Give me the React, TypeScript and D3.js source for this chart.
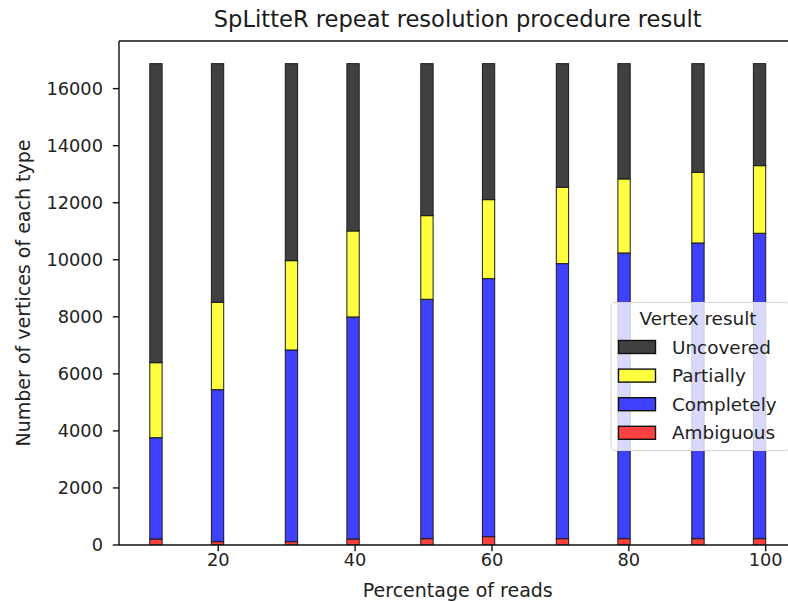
import React from "react";
import * as d3 from "d3";

const percentages = [10, 20, 30, 40, 50, 60, 70, 80, 90, 100];
const ambiguous = [210, 117, 117, 210, 222, 292, 222, 222, 222, 222];
const completely = [3553, 5329, 6721, 7785, 8393, 9046, 9643, 10017, 10367, 10707];
const partially = [2629, 3064, 3131, 3015, 2932, 2770, 2678, 2595, 2479, 2371];
const uncovered = [10484, 8366, 6907, 5866, 5329, 4768, 4333, 4042, 3808, 3576];

const seriesNames = ["Ambiguous", "Completely", "Partially", "Uncovered"];
const seriesColors = ["#ff4040", "#4040ff", "#ffff40", "#404040"];
const legendOrder = ["Uncovered", "Partially", "Completely", "Ambiguous"];
const yTicks = [0, 2000, 4000, 6000, 8000, 10000, 12000, 14000, 16000];
const xTicks = [20, 40, 60, 80, 100];
const binCount = 50;
const yMax = 17670;

const W = 788;
const H = 602;
const FONT = "DejaVu Sans, sans-serif";
const FS = 17.8;
const FS_LABEL = 19;
const FS_LEGEND = 18.4;
const FS_TITLE = 22.6;

export default function App() {
  const left = 119;
  const right = 796.5;
  const top = 41;
  const bottom = 545;

  const x = d3.scaleLinear().domain([5.5, 104.5]).range([left, right]);
  const y = d3.scaleLinear().domain([0, yMax]).range([bottom, top]);

  const lo = d3.min(percentages)!;
  const hi = d3.max(percentages)!;
  const step = (hi - lo) / binCount;
  const thresholds = d3.range(1, binCount).map((i) => lo + i * step);
  const bins = d3.bin<number, number>().domain([lo, hi]).thresholds(thresholds)(percentages);

  const rows = percentages.map((p, i) => {
    const b = bins.find((bb) => bb.includes(p))!;
    return {
      p,
      x0: b.x0 as number,
      x1: b.x1 as number,
      Ambiguous: ambiguous[i],
      Completely: completely[i],
      Partially: partially[i],
      Uncovered: uncovered[i],
    };
  });

  const stack = d3.stack<any>().keys(seriesNames)(rows);

  const legendX = 611;
  const legendY = 302.5;
  const legendW = 178;
  const legendH = 148;

  return (
    <svg width={W} height={H} style={{ position: "absolute", left: 0, top: 0 }} fontFamily={FONT}>
      <rect x={0} y={0} width={W} height={H} fill="#fff" />
      <defs>
        <clipPath id="plotclip">
          <rect x={left} y={top} width={right - left} height={bottom - top} />
        </clipPath>
      </defs>
      <text x={(left + right) / 2} y={27.3} fontSize={FS_TITLE} textAnchor="middle" fill="#1a1a1a">
        SpLitteR repeat resolution procedure result
      </text>
      <g clipPath="url(#plotclip)">
        {stack.map((layer, li) =>
          layer.map((d, j) => (
            <rect
              key={`${li}-${j}`}
              x={x(rows[j].x0)}
              y={y(d[1])}
              width={x(rows[j].x1) - x(rows[j].x0)}
              height={y(d[0]) - y(d[1])}
              fill={seriesColors[li]}
              stroke="#1a1a1a"
              strokeWidth={1}
            />
          ))
        )}
      </g>
      {/* spines */}
      <line x1={left} x2={left} y1={top} y2={bottom} stroke="#111" strokeWidth={1.4} />
      <line x1={left} x2={right} y1={bottom} y2={bottom} stroke="#111" strokeWidth={1.4} />
      <line x1={left} x2={right} y1={top} y2={top} stroke="#111" strokeWidth={1.4} />
      <line x1={right} x2={right} y1={top} y2={bottom} stroke="#111" strokeWidth={1.4} />
      {/* y ticks */}
      {yTicks.map((t) => (
        <g key={t}>
          <line x1={left - 6.2} x2={left} y1={y(t)} y2={y(t)} stroke="#111" strokeWidth={1.4} />
          <text x={103} y={y(t) + 6.4} fontSize={FS} textAnchor="end" fill="#222">
            {t}
          </text>
        </g>
      ))}
      {/* x ticks */}
      {xTicks.map((t) => (
        <g key={t}>
          <line x1={x(t)} x2={x(t)} y1={bottom} y2={bottom + 6.2} stroke="#111" strokeWidth={1.4} />
          <text x={x(t)} y={566} fontSize={FS} textAnchor="middle" fill="#222">
            {t}
          </text>
        </g>
      ))}
      <text x={(left + right) / 2} y={597} fontSize={FS_LABEL} textAnchor="middle" fill="#222">
        Percentage of reads
      </text>
      <text
        transform={`translate(30, ${(top + bottom) / 2}) rotate(-90)`}
        fontSize={FS_LABEL}
        textAnchor="middle"
        fill="#222"
      >
        Number of vertices of each type
      </text>
      {/* legend */}
      <g>
        <rect
          x={legendX}
          y={legendY}
          width={legendW}
          height={legendH}
          rx={4}
          fill="#fff"
          fillOpacity={0.8}
          stroke="#d6d6d6"
          strokeWidth={1.2}
        />
        <text x={legendX + legendW / 2 - 2} y={325} fontSize={FS_LEGEND} textAnchor="middle" fill="#222">
          Vertex result
        </text>
        {legendOrder.map((name, i) => {
          const idx = seriesNames.indexOf(name);
          const yy = 340.5 + i * 28.6;
          return (
            <g key={name}>
              <rect x={618.5} y={yy} width={37} height={13} fill={seriesColors[idx]} stroke="#111" strokeWidth={1.4} />
              <text x={672} y={yy + 13} fontSize={FS_LEGEND} fill="#222">
                {name}
              </text>
            </g>
          );
        })}
      </g>
    </svg>
  );
}
